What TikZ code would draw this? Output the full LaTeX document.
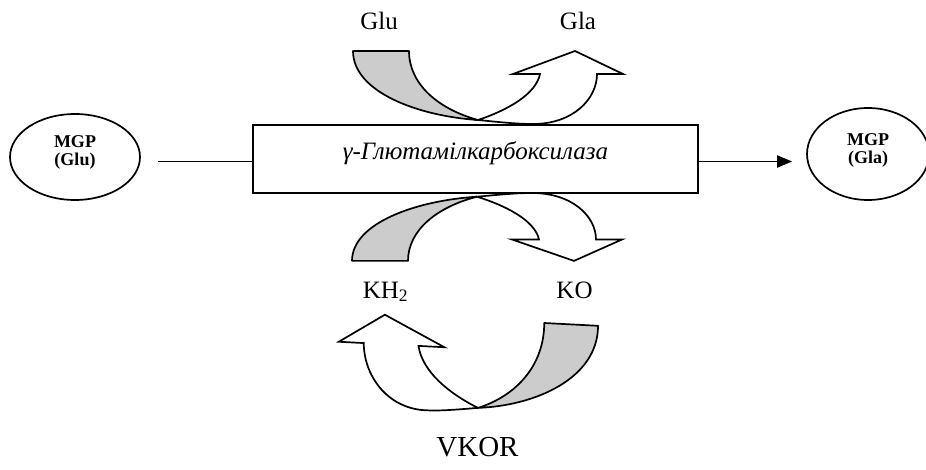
\documentclass[tikz,border=0pt]{standalone}
\usepackage{fontspec}
\setmainfont{Liberation Serif}
\usetikzlibrary{arrows.meta,shapes.geometric}

\definecolor{ribgray}{gray}{0.8}

\tikzset{
  mgp/.style={ellipse, draw, inner sep=0pt},
  mgptext/.style={align=center, font=\bfseries\fontsize{18}{18}\selectfont, inner sep=0pt},
  enzbox/.style={rectangle, draw, inner sep=0pt, minimum width=445pt, minimum height=68pt},
  lbl/.style={font=\fontsize{25}{28}\selectfont, inner sep=0pt, anchor=base},
  link/.style={line width=1.9pt},
  % curved ribbon arrow: grey tail on the left, white head turning up on the right
  pics/uturn/.style={code={
    \filldraw[fill=ribgray, line join=round]
      (-125,73) -- (-69,73) .. controls (-69,40) and (-40,15) .. (0,4)
      .. controls (-60,8) and (-125,32) .. cycle;
    \filldraw[fill=white, line join=miter]
      (0,4) .. controls (25,1.5) and (40,0) .. (55,0)
      .. controls (95,0) and (119,25) .. (119,50)
      -- (145,50) -- (97,73) -- (35,50) -- (62,50)
      .. controls (58,30) and (30,14) .. cycle;
  }}
}

\begin{document}
\begin{tikzpicture}[x=1pt, y=1pt, line width=1.7pt]
\useasboundingbox (0,0) rectangle (926,469);

% substrate and product
\node[mgp, minimum width=130pt, minimum height=86pt] (glu) at (75,312) {};
\node[mgptext] at ([yshift=5pt]glu.center) {MGP\\(Glu)};
\node[mgp, minimum width=122pt, minimum height=92pt] (gla) at (868,315) {};
\node[mgptext] at ([yshift=4pt]gla.center) {MGP\\(Gla)};

% enzyme
\node[enzbox] (enz) at (475.5,310) {};
\node[lbl] (enzname) at ([yshift=-1pt]enz.center)
  {\fontsize{25}{28}\selectfont\itshape γ-Глютамілкарбоксилаза};

% reaction line through the enzyme
\coordinate (inl) at ([yshift=-2.5pt]enz.west);
\coordinate (outl) at ([yshift=-2.5pt]enz.east);
\draw[link, shorten <=17pt] (glu.east |- inl) -- (inl);
\draw[link, -{Triangle[length=15pt,width=12pt]}, shorten >=14pt] (outl) -- (gla.west |- outl);

% Glu -> Gla
\pic at (478,345) {uturn};
\node[lbl] (tglu) at (379,439) {Glu};
\node[lbl] (tgla) at (578,439) {Gla};

% KH2 -> KO
\pic[yscale=-0.93] at (477,276) {uturn};
\node[lbl, anchor=base west] (tkh) at (362,171) {KH\textsubscript{2}};
\node[lbl] (tko) at (574.5,171) {KO};

% VKOR recycling
\pic[xscale=-0.96, yscale=1.28, yslant=0.039] at (478,56) {uturn};
\node[lbl, font=\fontsize{29}{32}\selectfont] (tvkor) at (477.5,12.3) {VKOR};
\end{tikzpicture}
\end{document}
